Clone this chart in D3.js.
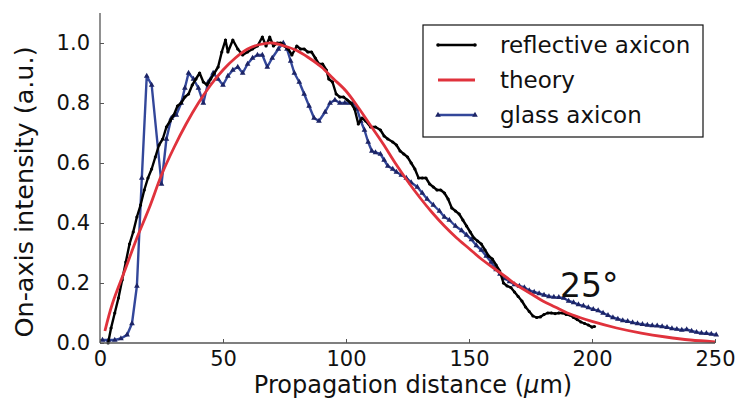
<!DOCTYPE html>
<html><head><meta charset="utf-8">
<script src="https://cdn.jsdelivr.net/npm/d3@7"></script>
<style>body{margin:0;background:#fff}svg{display:block}text{font-family:"DejaVu Sans",sans-serif}</style>
</head><body>
<svg id="c" width="742" height="403"></svg>
<script>
// ---- data ----
const xTicks = [0, 50, 100, 150, 200, 250];
const yTicks = [0.0, 0.2, 0.4, 0.6, 0.8, 1.0];
const seriesNames = ["reflective axicon", "theory", "glass axicon"];

const theoryX = [2,5,10,15,20,25,30,35,40,45,50,55,60,65,70,75,80,85,90,95,100,105,110,115,120,125,130,135,140,145,150,155,160,165,170,175,180,185,190,195,200,210,220,230,240,250];
const theoryY = [0.04,0.13,0.24,0.35,0.45,0.56,0.65,0.73,0.80,0.86,0.91,0.95,0.98,0.995,1.0,0.99,0.975,0.95,0.92,0.88,0.84,0.785,0.725,0.665,0.60,0.54,0.485,0.435,0.39,0.35,0.315,0.28,0.25,0.22,0.19,0.165,0.14,0.12,0.10,0.085,0.072,0.05,0.033,0.02,0.01,0.004];

const reflX = [3.3,4.5,6,7.5,9,10.5,12,13.5,15,16.5,18,19.5,21,22.5,24,25.5,27,28.5,30,31.5,33,34.5,36,37.5,39,40.5,42,43.5,45,46.5,48,49.5,51,52,54,56,58,60,62,64,66,67.5,69,70.5,72,73.5,75,76.5,78,80,81.5,83,84.5,86,87.5,89,90.5,92,93,94.5,96,97.5,99,100.5,102,103.5,105,106.5,108,110,112,114,115.5,117,119,120.5,122,123.5,125,126.5,128,129.5,131,132.5,134,135.5,137,138.5,140,141.5,143,144.5,146,147.5,149,150.5,152,153.5,155,156.5,158,159.5,161,162.5,164,165.5,167,168.5,170,171.5,173,174.5,176,177.5,179,180.5,182,183.5,185,186.5,188,189.5,191,192.5,194,195.5,197,198.5,200,201];
const reflY = [0.0,0.05,0.10,0.15,0.21,0.27,0.33,0.37,0.42,0.46,0.51,0.55,0.58,0.62,0.66,0.68,0.72,0.74,0.76,0.79,0.80,0.82,0.83,0.86,0.88,0.90,0.87,0.86,0.88,0.90,0.92,0.97,1.01,0.97,1.01,0.98,0.96,0.97,0.98,0.99,1.02,0.99,1.02,0.99,1.0,1.0,0.99,0.98,0.96,0.99,0.98,0.98,0.97,0.97,0.95,0.93,0.93,0.91,0.88,0.87,0.83,0.82,0.82,0.81,0.80,0.78,0.73,0.75,0.74,0.72,0.72,0.71,0.69,0.68,0.67,0.66,0.64,0.63,0.62,0.60,0.58,0.55,0.55,0.55,0.53,0.52,0.51,0.51,0.50,0.48,0.45,0.44,0.43,0.41,0.39,0.37,0.35,0.34,0.33,0.31,0.29,0.28,0.26,0.24,0.20,0.19,0.185,0.17,0.155,0.14,0.12,0.105,0.09,0.085,0.087,0.095,0.10,0.10,0.098,0.10,0.10,0.095,0.093,0.085,0.078,0.07,0.065,0.06,0.053,0.055];

const glassX = [1,3.5,6,8.5,11,13,15,17,19,21,25,27,29,31,33,34.5,36,38,40,42,44,46,48,50,52,54,56,58,60,62,64,66,68,70,72.5,74.5,76,77.5,79,81,83,85,87,89,91.5,93.5,95.5,97.5,99.5,101.5,103,104.5,106,107.5,109,110.5,112,114,115.5,117,119,120.5,122.5,124.5,126.5,129,131,133,135.5,138,140,142,144.5,147,149,151,153,155,157,159,161,162.6,164.5,166.5,168.5,170.5,172.5,174.5,176.5,178.5,180.5,182.5,184.5,186.5,188.5,190.5,192.5,194.5,196.5,198.5,200.5,202.5,204.5,206.5,208.5,210.5,212.5,214.5,216.5,218.5,220.5,222.5,224.5,226.5,228.5,230.5,232.5,234.5,236.5,238.5,240.5,242.5,244.5,246.5,248.5,250.5];
const glassY = [0.01,0.01,0.01,0.015,0.027,0.065,0.19,0.55,0.89,0.86,0.53,0.68,0.75,0.76,0.80,0.85,0.90,0.88,0.85,0.80,0.87,0.90,0.88,0.86,0.89,0.91,0.92,0.90,0.93,0.95,0.96,0.96,0.92,0.95,0.98,1.0,0.98,0.94,0.90,0.87,0.83,0.79,0.75,0.74,0.77,0.80,0.81,0.80,0.80,0.80,0.80,0.78,0.74,0.71,0.67,0.64,0.635,0.63,0.61,0.59,0.58,0.57,0.56,0.55,0.535,0.52,0.50,0.48,0.46,0.44,0.42,0.41,0.39,0.375,0.36,0.345,0.325,0.31,0.29,0.27,0.245,0.23,0.215,0.205,0.195,0.19,0.185,0.175,0.17,0.165,0.16,0.155,0.153,0.152,0.15,0.14,0.135,0.128,0.124,0.118,0.112,0.108,0.10,0.092,0.085,0.08,0.075,0.072,0.068,0.065,0.062,0.06,0.058,0.057,0.055,0.052,0.048,0.046,0.043,0.045,0.04,0.036,0.033,0.032,0.03,0.027];

// ---- drawing ----
const svg = d3.select("#c");
const x = d3.scaleLinear().domain([0, 250]).range([100, 715]);
const y = d3.scaleLinear().domain([0, 1.1]).range([343, 13]);
const axisColor = "#555";
const colors = {refl: "#000000", theory: "#e0323c", glass: "#33479a"};

const line = d3.line().x(d => x(d[0])).y(d => y(d[1]));
const zip = (a, b) => a.map((v, i) => [v, b[i]]);

const refl = zip(reflX, reflY), theory = zip(theoryX, theoryY), glass = zip(glassX, glassY);

// glass
svg.append("path").attr("d", line(glass)).attr("fill", "none")
  .attr("stroke", colors.glass).attr("stroke-width", 2.4).attr("stroke-linejoin", "round");
const tri = d3.symbol().type(d3.symbolTriangle).size(14);
svg.append("g").selectAll("path").data(glass).join("path")
  .attr("d", tri).attr("transform", d => `translate(${x(d[0])},${y(d[1])})`).attr("fill", "#1c2466");

// reflective
svg.append("path").attr("d", line(refl)).attr("fill", "none")
  .attr("stroke", colors.refl).attr("stroke-width", 2.4).attr("stroke-linejoin", "round");
svg.append("g").selectAll("circle").data(refl).join("circle")
  .attr("cx", d => x(d[0])).attr("cy", d => y(d[1])).attr("r", 1.6).attr("fill", "#000");

// theory
svg.append("path").attr("d", d3.line().x(d => x(d[0])).y(d => y(d[1])).curve(d3.curveCatmullRom)(theory))
  .attr("fill", "none").attr("stroke", colors.theory).attr("stroke-width", 2.8);

// axes
const xAxis = d3.axisBottom(x).tickValues(xTicks).tickFormat(d3.format("d")).tickSizeInner(-4).tickSizeOuter(0).tickPadding(8);
const gx = svg.append("g").attr("transform", `translate(0,${y(0)})`).call(xAxis);
const yAxis = d3.axisLeft(y).tickValues(yTicks).tickFormat(d3.format(".1f")).tickSizeInner(-4).tickSizeOuter(0).tickPadding(10);
const gy = svg.append("g").attr("transform", `translate(${x(0)},0)`).call(yAxis);
[gx, gy].forEach(g => {
  g.select(".domain").attr("stroke", axisColor).attr("stroke-width", 1.3);
  g.selectAll(".tick line").attr("stroke", axisColor);
  g.selectAll(".tick text").attr("font-size", 21).attr("fill", "#111").attr("font-family", "DejaVu Sans");
});
gx.select(".domain").attr("d", `M${x(0)},0H${x(250)}`);
gy.select(".domain").attr("d", `M0,${y(1.1)}V${y(0)}`);

// axis titles
svg.append("text").attr("x", 413).attr("y", 393).attr("text-anchor", "middle").attr("font-size", 24).attr("fill", "#111")
  .html('Propagation distance (<tspan font-style="italic">μ</tspan>m)');
svg.append("text").attr("transform", "translate(33,192) rotate(-90)").attr("text-anchor", "middle").attr("font-size", 25.5).attr("fill", "#111")
  .text("On-axis intensity (a.u.)");

// annotation
svg.append("text").attr("x", 560).attr("y", 297).attr("font-size", 33).attr("fill", "#111").text("25°");

// legend
const lg = svg.append("g");
lg.append("rect").attr("x", 423).attr("y", 25).attr("width", 280).attr("height", 112)
  .attr("fill", "#fff").attr("stroke", "#111").attr("stroke-width", 1.2);
const legendItems = [
  {name: seriesNames[0], color: colors.refl, mark: "dot"},
  {name: seriesNames[1], color: colors.theory, mark: null},
  {name: seriesNames[2], color: colors.glass, mark: "tri"}
];
legendItems.forEach((it, i) => {
  const yy = 45 + i * 35;
  lg.append("line").attr("x1", 438).attr("x2", 475).attr("y1", yy).attr("y2", yy)
    .attr("stroke", it.color).attr("stroke-width", it.mark === null ? 3 : 2.6);
  if (it.mark === "dot") [438, 475].forEach(px => lg.append("circle").attr("cx", px).attr("cy", yy).attr("r", 1.8).attr("fill", "#000"));
  if (it.mark === "tri") [438, 475].forEach(px => lg.append("path").attr("d", tri).attr("transform", `translate(${px},${yy})`).attr("fill", "#1c2466"));
  lg.append("text").attr("x", 500).attr("y", yy + 8).attr("font-size", 23).attr("fill", "#111").text(it.name);
});
</script>
</body></html>
